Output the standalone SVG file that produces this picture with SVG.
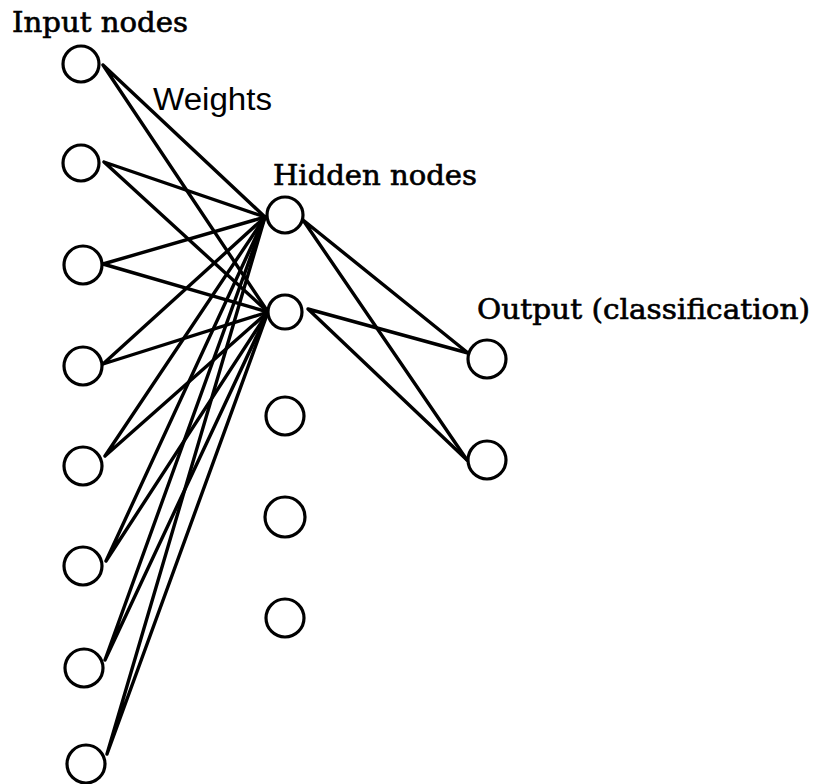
<svg xmlns="http://www.w3.org/2000/svg" width="815" height="784" viewBox="0 0 815 784">
  <style>
    .node { fill: #fff; stroke: #000; stroke-width: 3.2; }
    .edge { stroke: #000; stroke-width: 3.4; stroke-linecap: round; fill: none; }
    .serif { font-family: "DejaVu Serif", "Liberation Serif", serif; font-size: 27px; fill: #000; stroke: #000; stroke-width: 0.6; }
    .sans { font-family: "Liberation Sans", Arial, sans-serif; font-size: 31px; fill: #000; }
  </style>
  <rect width="815" height="784" fill="#fff"/>

  <!-- connectors: input layer to hidden nodes 1 and 2, hidden to output -->
  <g id="connectors" class="edge">
    <path d="M103 65 L265 217 M103 65 L268 312"/>
    <path d="M104 162 L265 217 M104 162 L268 312"/>
    <path d="M103 264 L265 217 M103 264 L268 312"/>
    <path d="M103 364 L265 217 M103 364 L268 312"/>
    <path d="M105 456 L265 217 M105 456 L268 312"/>
    <path d="M106 561 L265 217 M106 561 L268 312"/>
    <path d="M105 660 L265 217 M105 660 L268 312"/>
    <path d="M107 754 L265 217 M107 754 L268 312"/>
    <path d="M303 220 L468 353 M303 220 L467 460"/>
    <path d="M308 309 L468 353 M308 309 L467 460"/>
  </g>

  <!-- input layer -->
  <g id="input-1"><circle class="node" cx="81" cy="64" r="18"/></g>
  <g id="input-2"><circle class="node" cx="81" cy="163" r="18"/></g>
  <g id="input-3"><circle class="node" cx="83" cy="265" r="19"/></g>
  <g id="input-4"><circle class="node" cx="83" cy="366" r="19"/></g>
  <g id="input-5"><circle class="node" cx="83" cy="466" r="19"/></g>
  <g id="input-6"><circle class="node" cx="83" cy="566" r="19"/></g>
  <g id="input-7"><circle class="node" cx="84" cy="668" r="19"/></g>
  <g id="input-8"><circle class="node" cx="86" cy="764" r="19"/></g>

  <!-- hidden layer -->
  <g id="hidden-1"><circle class="node" cx="285" cy="215" r="18"/></g>
  <g id="hidden-2"><circle class="node" cx="285" cy="312" r="17"/></g>
  <g id="hidden-3"><circle class="node" cx="285" cy="416" r="19"/></g>
  <g id="hidden-4"><circle class="node" cx="285" cy="517" r="20"/></g>
  <g id="hidden-5"><circle class="node" cx="285" cy="618" r="19"/></g>

  <!-- output layer -->
  <g id="output-1"><circle class="node" cx="487" cy="359" r="19"/></g>
  <g id="output-2"><circle class="node" cx="487" cy="460" r="19"/></g>

  <!-- labels -->
  <g id="labels">
    <text class="serif" x="12" y="32" textLength="176" lengthAdjust="spacingAndGlyphs">Input nodes</text>
    <text class="sans" x="153" y="110" textLength="119" lengthAdjust="spacingAndGlyphs">Weights</text>
    <text class="serif" x="273" y="185" textLength="204" lengthAdjust="spacingAndGlyphs">Hidden nodes</text>
    <text class="serif" x="477" y="319" textLength="333" lengthAdjust="spacingAndGlyphs">Output (classification)</text>
  </g>
</svg>
